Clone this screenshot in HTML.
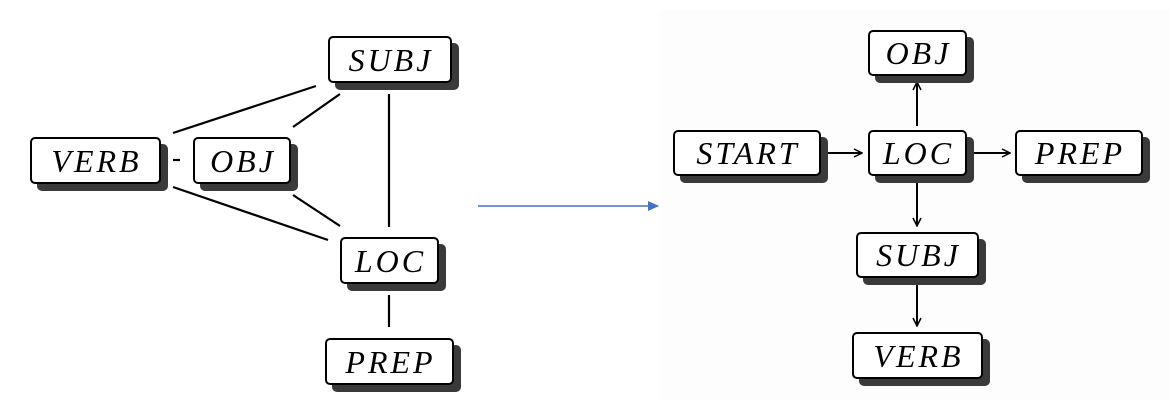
<!DOCTYPE html>
<html><head><style>
body{margin:0;width:1175px;height:411px;background:#fff;position:relative;overflow:hidden}
.b{position:absolute;box-sizing:border-box;border:2px solid #000;border-radius:5px;background:#fff;box-shadow:7px 7px 0 #3a3a3a;font-family:"Liberation Serif",serif;font-style:italic;font-size:32px;letter-spacing:3px;display:flex;align-items:center;justify-content:center;line-height:1;padding-left:2px}
svg{position:absolute;left:0;top:0}
</style></head><body>
<div style="position:absolute;left:660px;top:10px;width:510px;height:390px;background:#fdfdfd"></div>
<svg width="1175" height="411">
<defs><marker id="a" markerWidth="10" markerHeight="10" refX="9" refY="5" orient="auto" markerUnits="userSpaceOnUse"><path d="M1,1 L9,5 L1,9" fill="none" stroke="#000" stroke-width="1.5"/></marker>
<marker id="bl" markerWidth="12" markerHeight="12" refX="10" refY="6" orient="auto" markerUnits="userSpaceOnUse"><path d="M0,1 L11,6 L0,11z" fill="#4472c4"/></marker></defs>
<g stroke="#000" stroke-width="2.2">
<line x1="173" y1="133" x2="316" y2="86"/>
<line x1="293" y1="127" x2="340" y2="94"/>
<line x1="173" y1="160" x2="180" y2="160"/>
<line x1="173" y1="187" x2="328" y2="240"/>
<line x1="293" y1="195" x2="340" y2="226"/>
<line x1="389" y1="94" x2="389" y2="227"/>
<line x1="389" y1="295" x2="389" y2="327"/>
</g>
<line x1="478" y1="206" x2="658" y2="206" stroke="#4472c4" stroke-width="1.5" marker-end="url(#bl)"/>
<g stroke="#000" stroke-width="2" marker-end="url(#a)">
<line x1="917" y1="126" x2="917" y2="82"/>
<line x1="828" y1="153" x2="862" y2="153"/>
<line x1="973" y1="153" x2="1010" y2="153"/>
<line x1="917" y1="181" x2="917" y2="226"/>
<line x1="917" y1="282" x2="917" y2="326"/>
</g>
</svg>
<div class="b" style="left:328px;top:36px;width:124px;height:47px">SUBJ</div>
<div class="b" style="left:30px;top:137px;width:131px;height:47px">VERB</div>
<div class="b" style="left:193px;top:137px;width:98px;height:47px">OBJ</div>
<div class="b" style="left:340px;top:237px;width:99px;height:47px">LOC</div>
<div class="b" style="left:325px;top:338px;width:129px;height:47px">PREP</div>
<div class="b" style="left:868px;top:30px;width:99px;height:46px">OBJ</div>
<div class="b" style="left:673px;top:130px;width:148px;height:46px">START</div>
<div class="b" style="left:868px;top:130px;width:99px;height:46px">LOC</div>
<div class="b" style="left:1015px;top:130px;width:128px;height:46px">PREP</div>
<div class="b" style="left:856px;top:232px;width:123px;height:46px">SUBJ</div>
<div class="b" style="left:852px;top:332px;width:131px;height:47px">VERB</div>
</body></html>
